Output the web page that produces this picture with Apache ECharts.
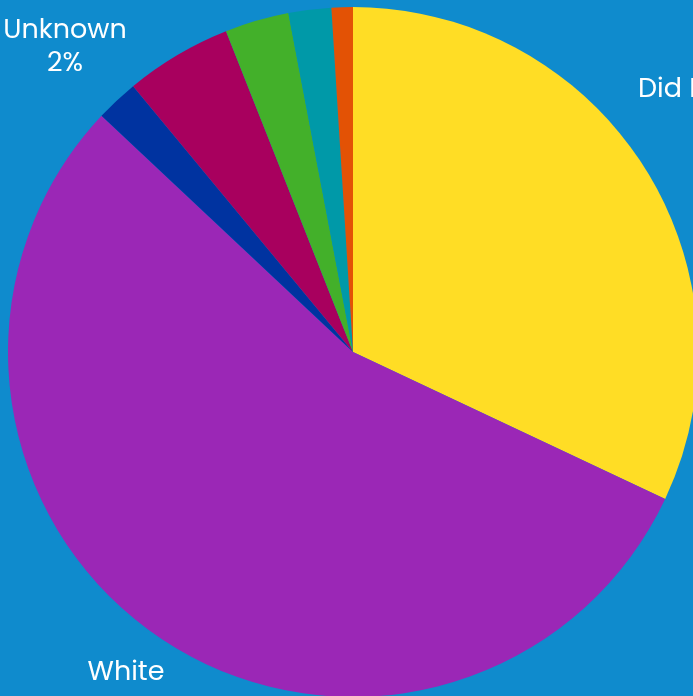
<!DOCTYPE html>
<html>
<head>
<meta charset="utf-8">
<script src="https://cdn.jsdelivr.net/npm/echarts@6/dist/echarts.min.js"></script>
<style>
html,body{margin:0;padding:0;background:#0F8BCD;}
#chart{width:693px;height:696px;}
</style>
</head>
<body>
<div id="chart"></div>
<script>
// Data
const categories = ["Did Not Disclose", "White", "Unknown", "Asian", "Black or African American", "Hispanic or Latino", "Two or More Races"];
const values = [32, 55, 2, 5, 3, 2, 1];
const colors = ["#FFDD25", "#9B27B6", "#0033A0", "#A8005E", "#43B02A", "#0099A8", "#E35205"];
const labelled = [true, true, true, false, false, false, false];
const labelFormats = ["{b} {d}%", "{b}", "{b}\n{d}%", "", "", "", ""];

// label placement (layout only)
const labelPlace = {
  0: {x: 638, y: 74, align: 'left', verticalAlign: 'top'},
  1: {x: 126, y: 657, align: 'center', verticalAlign: 'top'},
  2: {x: 65, y: 15, align: 'center', verticalAlign: 'top'}
};

const chart = echarts.init(document.getElementById('chart'), null, {renderer: 'canvas'});
chart.setOption({
  backgroundColor: '#0F8BCD',
  animation: false,
  series: [{
    type: 'pie',
    center: [353, 352],
    radius: [0, 345],
    startAngle: 90,
    clockwise: true,
    avoidLabelOverlap: false,
    itemStyle: {borderWidth: 0},
    label: {
      position: 'outside',
      color: '#ffffff',
      fontFamily: 'Poppins, "Open Sans", sans-serif',
      fontSize: 27,
      lineHeight: 33
    },
    labelLine: {show: false},
    labelLayout: function (params) {
      const p = labelPlace[params.dataIndex];
      return p ? {x: p.x, y: p.y, align: p.align, verticalAlign: p.verticalAlign, hideOverlap: false} : {};
    },
    data: categories.map((c, i) => ({
      name: c,
      value: values[i],
      itemStyle: {color: colors[i]},
      label: {show: labelled[i], formatter: labelFormats[i] || '{b}'}
    }))
  }]
});
</script>
</body>
</html>
